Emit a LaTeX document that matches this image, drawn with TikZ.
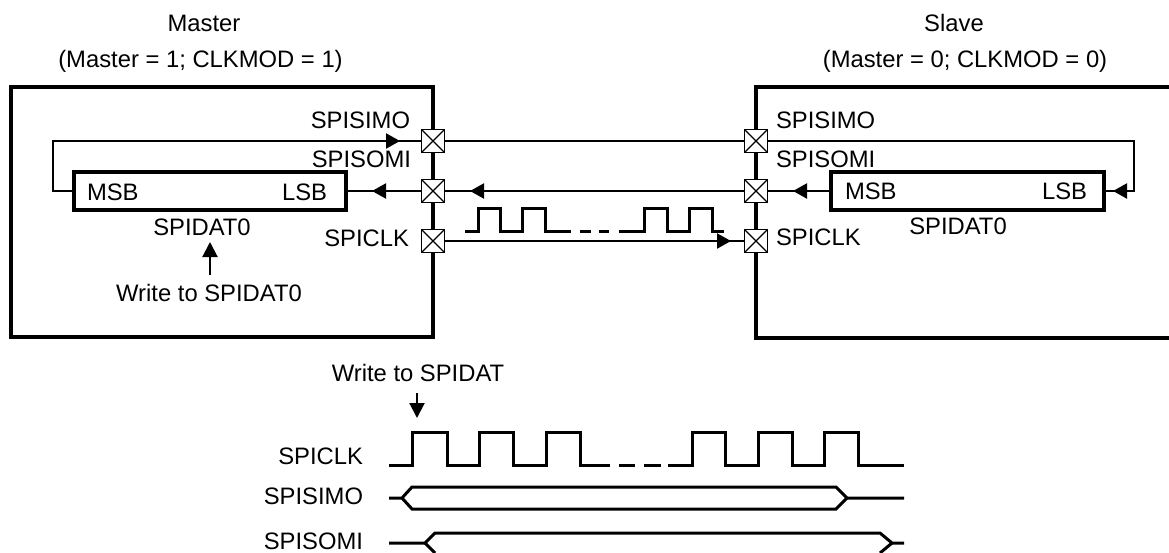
\documentclass[tikz,border=0pt]{standalone}
\usepackage{fontspec}
\setmainfont{Liberation Sans}
\usetikzlibrary{arrows.meta,decorations.markings}
\tikzset{
  x=1pt,y=-1pt,
  every node/.style={font=\fontsize{23.8}{27}\selectfont,inner sep=0pt,outer sep=0pt},
  lbl/.style={anchor=base},
  lblw/.style={anchor=base west},
  lble/.style={anchor=base east},
  chip/.style={line width=4.4pt,line join=miter},
  regbox/.style={draw,line width=4.4pt,minimum height=38pt},
  pinbox/.style={draw,fill=white,line width=1.8pt,minimum size=23pt,
    path picture={\draw[line width=1.2pt] (path picture bounding box.north west)--(path picture bounding box.south east)
      (path picture bounding box.north east)--(path picture bounding box.south west);}},
  wire/.style={line width=2.1pt},
  wave/.style={line width=3pt,line join=miter},
  tip/.style={-{Triangle[length=15pt,width=15pt]}},
  midtip/.style={postaction={decorate,decoration={markings,
    mark=at position #1pt with {\arrow{Triangle[length=14pt,width=15pt]}}}}},
}
\begin{document}
\begin{tikzpicture}
\useasboundingbox (0,0) rectangle (1169,552);
\clip (0,0) rectangle (1169,552);
% titles
\node[lbl] (mt1) at (204,31) {Master};
\node[lbl] (mt2) at (200.5,67) {(Master = 1; CLKMOD = 1)};
\node[lbl] (st1) at (954,31) {Slave};
\node[lbl] (st2) at (965,67) {(Master = 0; CLKMOD = 0)};
% chips
\draw[chip] (11,87) rectangle (433,337);
\draw[chip] (1175,87) -- (756,87) -- (756,338) -- (1175,338);
% registers
\node[regbox,minimum width=272pt] (mreg) at (210,191) {};
\node[regbox,minimum width=273pt] (sreg) at (967.5,191) {};
% pins
\node[pinbox] (m1) at (433,141) {};
\node[pinbox] (m2) at (433,191) {};
\node[pinbox] (m3) at (433,241) {};
\node[pinbox] (s1) at (756,141) {};
\node[pinbox] (s2) at (756,191) {};
\node[pinbox] (s3) at (756,241) {};
% connectors
\draw[wire,midtip=418] (mreg.west) -- (53,191) -- (53,141) -- (m1.west);
\draw[wire,midtip=49.5] (m2.west) -- (mreg.east);
\draw[wire] (m1.east) -- (s1.west);
\draw[wire,midtip=274.5] (s2.west) -- (m2.east);
\draw[wire,midtip=286.5] (m3.east) -- (s3.west);
\draw[wire,midtip=38] (sreg.west) -- (s2.east);
\draw[wire,midtip=437.5] (s1.east) -- (1134,141) -- (1134,191) -- (sreg.east);
% labels master
\node[lble] (a1) at (410,128) {SPISIMO};
\node[lble] (a2) at (411,167) {SPISOMI};
\node[lble] (a3) at (409,246) {SPICLK};
\node[lblw] (a4) at (87,200) {MSB};
\node[lble] (a5) at (327,200) {LSB};
\node[lbl] (a6) at (202,235) {SPIDAT0};
\node[lbl] (a7) at (209,301) {Write to SPIDAT0};
\coordinate (wa) at (210,275);
\coordinate (wb) at (210,242);
\draw[wire,tip] (wa) -- (wb);
% labels slave
\node[lblw] (b1) at (776,128) {SPISIMO};
\node[lblw] (b2) at (776,167) {SPISOMI};
\node[lblw] (b3) at (776,245.5) {SPICLK};
\node[lblw] (b4) at (845,199.5) {MSB};
\node[lble] (b5) at (1087,199.5) {LSB};
\node[lbl] (b6) at (958,234.5) {SPIDAT0};
% small clock
\draw[wave] (465,231) -- (478,231) -- (478,208) -- (500,208) -- (500,231) -- (522,231) -- (522,208) -- (545,208) -- (545,231) -- (571,231);
\draw[wave] (580,231) -- (591,231);
\draw[wave] (599,231) -- (609,231);
\draw[wave] (619,231) -- (644,231) -- (644,208) -- (667,208) -- (667,231) -- (689,231) -- (689,208) -- (712,208) -- (712,231) -- (724,231);
% timing
\node[lbl] (t0) at (418,381) {Write to SPIDAT};
\coordinate (wc) at (417,393);
\coordinate (wd) at (417,418);
\draw[wire,tip] (wc) -- (wd);
\node[lble] (t1) at (363,464) {SPICLK};
\node[lble] (t2) at (363,504) {SPISIMO};
\node[lble] (t3) at (363,549) {SPISOMI};
\draw[wave] (389,465) -- (412,465) -- (412,432) -- (447,432) -- (447,465) -- (479,465) -- (479,432) -- (513,432) -- (513,465) -- (546,465) -- (546,432) -- (580,432) -- (580,465) -- (610,465);
\draw[wave] (619,465) -- (635,465);
\draw[wave] (644,465) -- (661,465);
\draw[wave] (668,465) -- (692,465) -- (692,432) -- (725,432) -- (725,465) -- (758,465) -- (758,432) -- (792,432) -- (792,465) -- (824,465) -- (824,432) -- (858,432) -- (858,465) -- (904,465);
\draw[wave] (389,498) -- (402,498) -- (412,487) -- (836,487) -- (847,498) -- (904,498);
\draw[wave] (402,498) -- (412,509) -- (836,509) -- (847,498);
\draw[wave] (389,543) -- (425,543) -- (435,533) -- (880,533) -- (892,543) -- (904,543);
\draw[wave] (425,543) -- (435,553);
\draw[wave] (880,553) -- (892,543);
\end{tikzpicture}
\end{document}
